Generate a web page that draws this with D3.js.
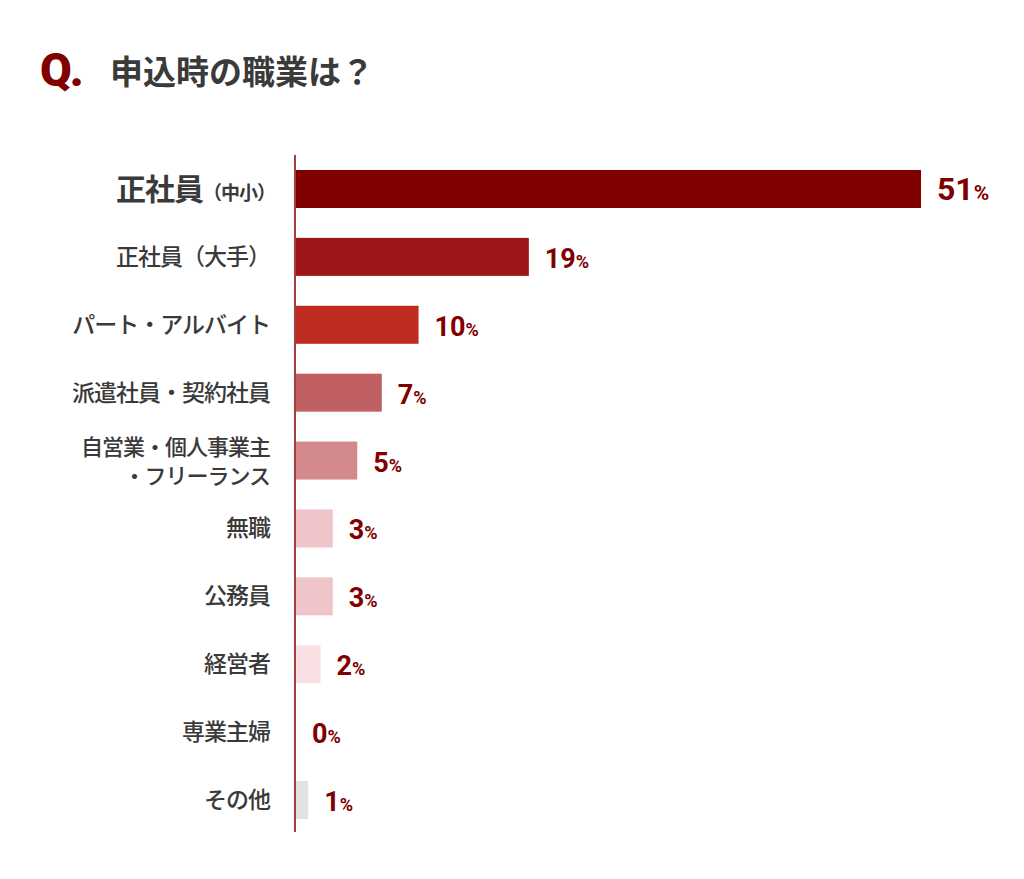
<!DOCTYPE html>
<html><head><meta charset="utf-8">
<script src="https://cdn.jsdelivr.net/npm/d3@7"></script>
<style>body{margin:0;background:#fff}</style></head>
<body><svg id="c" width="1024" height="879"></svg>
<script>
const categories=[["正社員","（中小）"],["正社員（大手）"],["パート・アルバイト"],["派遣社員・契約社員"],["自営業・個人事業主","・フリーランス"],["無職"],["公務員"],["経営者"],["専業主婦"],["その他"]];
const values=[51,19,10,7,5,3,3,2,0,1];
const colors=["#800000","#9e1518","#be2b20","#c06062","#d48a8c","#efc5ca","#efc5ca","#fae0e3","#fff","#e2e2e2"];
const rowCenters=[189,257,324,392,461,528,596,664,731,800];
const svg=d3.select("#c");
const font="'Noto Sans CJK JP',sans-serif";
svg.append("text").attr("x",40).attr("y",86).attr("font-family","Roboto,sans-serif").attr("font-weight",900).attr("font-size",46).attr("fill","#800000").attr("letter-spacing",-2).text("Q.");
svg.append("text").attr("x",110).attr("y",84).attr("font-family",font).attr("font-weight",700).attr("font-size",33).attr("fill","#3a3a3a").text("申込時の職業は？");
const x=d3.scaleLinear().domain([0,51]).range([296,921]);
const y=d3.scalePoint().domain(d3.range(10)).range([rowCenters[0],rowCenters[9]]);
const g=svg.append("g");
g.selectAll("rect").data(values).join("rect").attr("x",x(0)).attr("y",(d,i)=>y(i)-19).attr("height",38)
 .attr("width",d=>x(d)-x(0)).attr("fill",(d,i)=>colors[i]);
svg.append("line").attr("x1",295).attr("x2",295).attr("y1",155).attr("y2",832).attr("stroke","#800000").attr("stroke-width",1.5);
values.forEach((v,i)=>{
  const t=svg.append("text").attr("x",x(v)+16).attr("y",y(i)+11).attr("font-family","Roboto,sans-serif").attr("font-weight",700).attr("fill","#800000");
  t.append("tspan").attr("font-size",i==0?32:27).text(v);
  t.append("tspan").attr("font-size",i==0?21:18).text("%");
  const c=categories[i];
  if(i==0){
    const l=svg.append("text").attr("x",275).attr("y",y(i)+11).attr("text-anchor","end").attr("font-family",font).attr("font-weight",700).attr("fill","#3a3a3a").attr("letter-spacing",-1);
    l.append("tspan").attr("font-size",30).text(c[0]);
    l.append("tspan").attr("font-size",19).text(c[1]);
  } else if(c.length==2){
    c.forEach((s,k)=>svg.append("text").attr("x",270).attr("y",y(i)-6+k*29).attr("text-anchor","end").attr("font-family",font).attr("font-weight",500).attr("font-size",22).attr("letter-spacing",-1).attr("fill","#3a3a3a").text(s));
  } else {
    svg.append("text").attr("x",270).attr("y",y(i)+8).attr("text-anchor","end").attr("font-family",font).attr("font-weight",500).attr("font-size",23).attr("letter-spacing",-1).attr("fill","#3a3a3a").text(c[0]);
  }
});
</script></body></html>
